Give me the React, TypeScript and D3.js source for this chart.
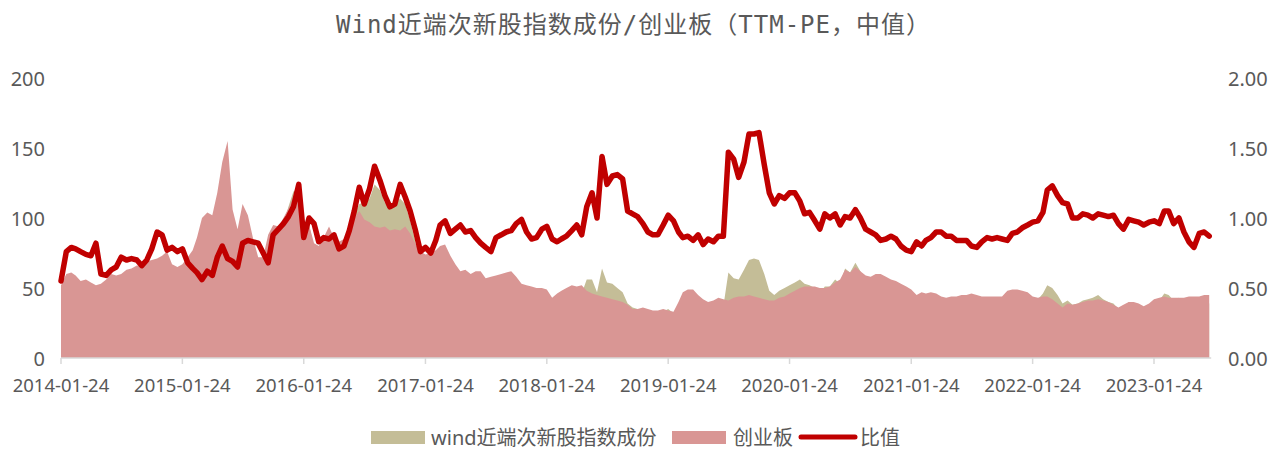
import React from 'react';
import * as d3 from 'd3';

// Ratio (Wind sub-new / ChiNext), semi-monthly samples from 2014-01-24
const RATIO = [
  0.55,0.76,0.79,0.78,0.76,0.74,0.73,0.82,0.60,0.59,
  0.63,0.65,0.72,0.70,0.71,0.70,0.66,0.70,0.78,0.90,
  0.88,0.77,0.79,0.76,0.78,0.68,0.64,0.61,0.56,0.62,
  0.59,0.72,0.80,0.71,0.69,0.65,0.82,0.84,0.83,0.82,
  0.75,0.68,0.88,0.92,0.96,1.01,1.08,1.24,0.86,1.00,
  0.96,0.83,0.86,0.85,0.88,0.78,0.80,0.91,1.05,1.22,
  1.10,1.21,1.37,1.27,1.16,1.08,1.10,1.24,1.15,1.05,
  0.92,0.76,0.79,0.75,0.84,0.95,0.98,0.89,0.92,0.95,
  0.90,0.91,0.86,0.82,0.79,0.76,0.86,0.88,0.90,0.91,
  0.96,0.99,0.90,0.85,0.86,0.92,0.94,0.85,0.83,0.85,
  0.87,0.91,0.95,0.88,1.08,1.18,1.00,1.44,1.24,1.30,
  1.31,1.28,1.05,1.03,1.01,0.96,0.90,0.88,0.88,0.95,
  1.02,0.98,0.90,0.86,0.87,0.84,0.88,0.81,0.85,0.83,
  0.87,0.87,1.47,1.42,1.29,1.40,1.60,1.60,1.61,1.38,
  1.18,1.10,1.16,1.14,1.18,1.18,1.12,1.03,1.04,0.98,
  0.92,1.03,1.00,1.03,0.95,1.01,1.00,1.06,1.00,0.92,
  0.90,0.88,0.84,0.85,0.87,0.85,0.80,0.77,0.76,0.83,
  0.80,0.84,0.86,0.90,0.90,0.87,0.87,0.84,0.84,0.84,
  0.80,0.79,0.83,0.86,0.85,0.86,0.85,0.84,0.89,0.90,
  0.93,0.95,0.97,0.98,1.04,1.20,1.23,1.16,1.11,1.10,
  1.00,1.00,1.03,1.02,1.00,1.03,1.02,1.01,1.02,0.96,
  0.92,0.99,0.98,0.97,0.95,0.97,0.98,0.96,1.05,1.05,
  0.96,1.00,0.90,0.83,0.79,0.89,0.90,0.87,
];

// 创业板 TTM-PE median
const CHINEXT = [
  52,60,61,59,55,56,54,52,53,56,
  60,59,60,63,64,66,66,69,70,71,
  73,76,67,65,67,72,77,86,100,104,
  102,118,140,155,106,92,110,102,86,72,
  72,88,95,94,100,107,115,119,87,95,
  82,80,86,94,86,83,85,89,100,105,
  99,97,94,93,94,91,92,91,94,89,
  82,76,74,75,77,80,81,73,67,62,
  63,60,62,62,57,58,59,60,61,62,
  58,53,52,51,50,50,49,43,46,48,
  50,52,51,52,48,46,45,44,43,42,
  41,40,38,35,35,36,35,34,34,35,
  34,33,40,47,49,49,45,42,40,41,
  43,42,41,43,44,44,45,44,43,42,
  41,41,43,44,46,48,50,51,51,51,
  50,50,51,54,56,63,61,65,62,59,
  58,60,60,58,56,55,53,51,49,45,
  47,46,47,46,44,43,44,44,45,45,
  46,45,44,44,44,44,44,48,49,49,
  48,47,44,43,44,44,42,39,36,39,
  38,39,40,41,41,42,41,40,38,36,
  38,40,40,39,37,39,42,43,44,43,
  43,43,43,44,44,44,45,45,
];

// wind近端次新股指数成份 TTM-PE median
const SUBNEW = [
  29,46,48,46,42,41,39,43,32,33,
  38,38,43,44,45,46,44,48,55,64,
  64,59,53,49,52,49,49,52,56,64,
  60,85,112,110,73,60,90,86,71,59,
  54,60,84,86,96,108,119,121,75,95,
  79,66,74,80,76,65,68,81,103,110,
  111,114,124,120,111,108,110,114,110,98,
  84,58,58,56,65,76,79,65,62,59,
  57,55,53,51,45,44,51,53,55,56,
  56,52,47,43,43,46,46,37,38,41,
  44,47,48,46,56,56,47,64,54,53,
  50,47,39,36,35,35,32,30,30,33,
  35,32,36,40,43,41,40,34,34,34,
  37,37,61,57,56,63,70,71,70,60,
  48,45,48,50,52,54,56,53,52,50,
  46,51,51,56,53,64,61,68,62,54,
  52,53,50,49,49,47,42,39,37,37,
  38,39,40,41,40,37,38,37,38,38,
  37,36,37,38,37,38,37,40,44,44,
  45,45,43,42,46,52,50,45,39,41,
  38,39,41,42,43,45,42,40,39,35,
  35,40,39,38,35,38,41,41,46,45,
  41,43,39,37,35,39,41,39,
];

const X_TICKS = [
  '2014-01-24','2015-01-24','2016-01-24','2017-01-24','2018-01-24',
  '2019-01-24','2020-01-24','2021-01-24','2022-01-24','2023-01-24',
];
const LEFT_TICKS = [0, 50, 100, 150, 200];
const RIGHT_TICKS = [0, 0.5, 1, 1.5, 2];
const TITLE = 'Wind近端次新股指数成份/创业板（TTM-PE，中值）';
const LEGEND_NAMES = ['wind近端次新股指数成份', '创业板', '比值'];

const COLORS = { subnew: '#C4BD97', chinext: '#D99694', ratio: '#C00000', text: '#595959', axis: '#D9D9D9' };

// sample dates: 24th and 9th of each month
const DATES = RATIO.map((_, i) => new Date(2014, Math.floor((i + 1) / 2), i % 2 === 0 ? 24 : 9));

export default function App() {
  const parse = d3.timeParse('%Y-%m-%d');
  const x = d3.scaleTime().domain([parse('2014-01-24')!, parse('2023-01-24')!]).range([61, 1154]);
  const yL = d3.scaleLinear().domain([0, 200]).range([358, 78]);
  const yR = d3.scaleLinear().domain([0, 2]).range([358, 78]);

  const areaGen = (vals: number[]) =>
    d3.area<number>()
      .x((_, i) => x(DATES[i]))
      .y0(yL(0))
      .y1((d) => yL(d))(vals) || '';
  const lineGen = d3.line<number>()
    .x((_, i) => x(DATES[i]))
    .y((d) => yR(d));

  const x0 = x(DATES[0]);
  const x1 = x(DATES[DATES.length - 1]);
  const font = '"Noto Sans", "Noto Sans CJK SC", sans-serif';

  return (
    <svg width={1282} height={450} style={{ position: 'absolute', left: 0, top: 0, background: '#fff' }}>
      <text x={633} y={25} textAnchor="middle" dominantBaseline="central"
        fontFamily='"DejaVu Sans Mono", "Noto Sans CJK SC", monospace' fontSize={24} fill={COLORS.text}
        textLength={594} lengthAdjust="spacing">{TITLE}</text>

      <path d={areaGen(SUBNEW)} fill={COLORS.subnew} />
      <path d={areaGen(CHINEXT)} fill={COLORS.chinext} />

      <line x1={x0} x2={x1 + 2} y1={358} y2={358} stroke={COLORS.axis} strokeWidth={1.5} />
      {X_TICKS.map((t) => {
        const xx = x(parse(t)!);
        return (
          <g key={t}>
            <line x1={xx} x2={xx} y1={358} y2={364} stroke={COLORS.axis} strokeWidth={1.5} />
            <text x={xx} y={384} textAnchor="middle" dominantBaseline="central" fontFamily={font}
              fontSize={18.5} fill={COLORS.text}>{t}</text>
          </g>
        );
      })}

      <path d={lineGen(RATIO) || ''} fill="none" stroke={COLORS.ratio} strokeWidth={5.5}
        strokeLinejoin="round" strokeLinecap="round" />

      {LEFT_TICKS.map((t) => (
        <text key={'l' + t} x={45} y={yL(t)} textAnchor="end" dominantBaseline="central"
          fontFamily={font} fontSize={20} fill={COLORS.text}>{t}</text>
      ))}
      {RIGHT_TICKS.map((t) => (
        <text key={'r' + t} x={1228} y={yR(t)} textAnchor="start" dominantBaseline="central"
          fontFamily={font} fontSize={20} fill={COLORS.text}>{d3.format('.2f')(t)}</text>
      ))}

      <g fontFamily={font} fontSize={20} fill={COLORS.text}>
        <rect x={371} y={431} width={54} height={13} fill={COLORS.subnew} />
        <text x={431} y={437} dominantBaseline="central">{LEGEND_NAMES[0]}</text>
        <rect x={672} y={431} width={54} height={13} fill={COLORS.chinext} />
        <text x={733} y={437} dominantBaseline="central">{LEGEND_NAMES[1]}</text>
        <line x1={801} x2={855} y1={437} y2={437} stroke={COLORS.ratio} strokeWidth={5} strokeLinecap="round" />
        <text x={860} y={437} dominantBaseline="central">{LEGEND_NAMES[2]}</text>
      </g>
    </svg>
  );
}
